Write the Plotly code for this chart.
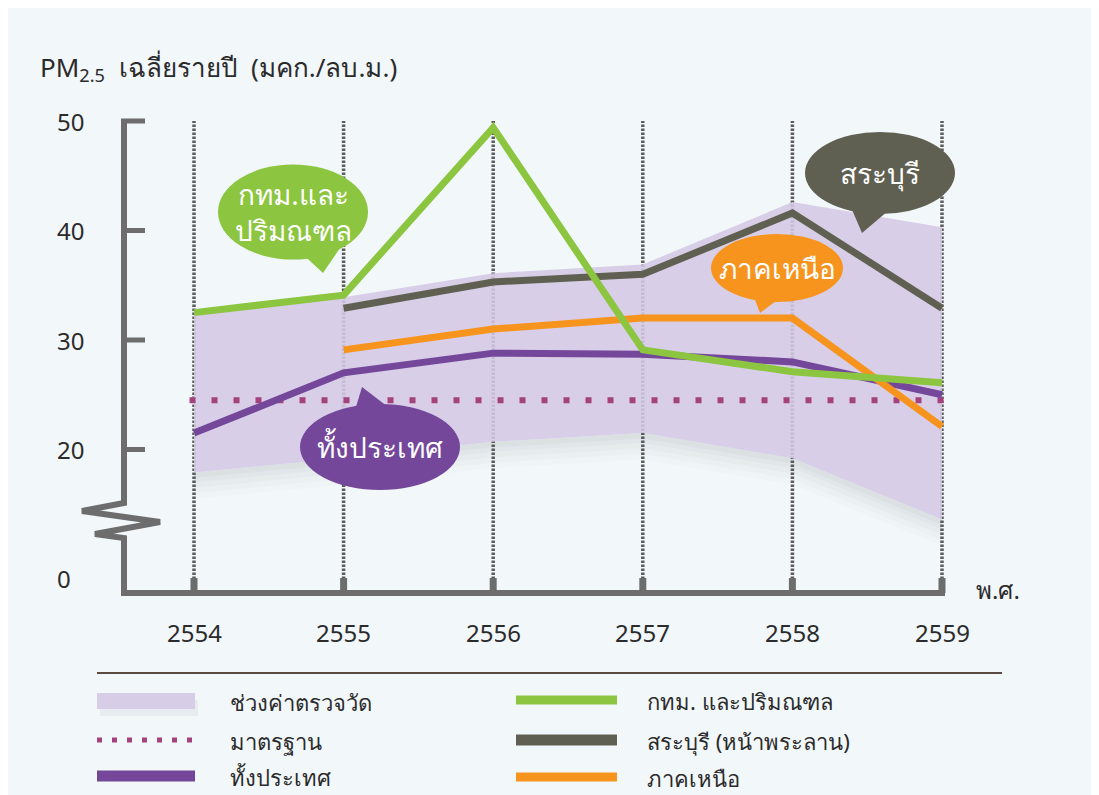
"""
PM2.5 annual average chart (Thailand), 2554-2559
"""

import plotly.graph_objects as go

# Data
years = [2554, 2555, 2556, 2557, 2558, 2559]
range_upper = [32.5, 33.9, 36.1, 36.9, 42.6, 40.3]
range_lower = [17.9, 19.2, 20.7, 21.5, 19.2, 13.6]
bkk = [32.5, 34.1, 49.4, 29.1, 27.1, 26.1]
saraburi_years = [2555, 2556, 2557, 2558, 2559]
saraburi = [32.9, 35.3, 36.0, 41.6, 32.9]
north_years = [2555, 2556, 2557, 2558, 2559]
north = [29.1, 31.0, 32.0, 32.0, 22.1]
nation = [21.5, 27.0, 28.8, 28.7, 28.0, 25.0]
standard = 24.5
y_ticks = [20, 30, 40, 50]

# Colours
GREEN = '#8cc53f'
GREY = '#606052'
ORANGE = '#f7941e'
PURPLE = '#74479b'
BAND = '#d8cde6'
STD = '#a3427c'
AXIS = '#6d6d6d'
TEXT = '#2b2b2b'
CARD = '#f2f7fa'
FONT = 'Noto Sans, sans-serif'

# Canvas / plot geometry (pixels). Positions below are page pixels,
# the figure itself sits 8px in from the page corner.
OFF = 8
W, H = 1099, 795
ML, MR, MT, MB = 62, 80, 82, 170
PW, PH = W - ML - MR, H - MT - MB
PLOT_L, PLOT_T = ML + OFF, MT + OFF
PLOT_R, PLOT_B = PLOT_L + PW, PLOT_T + PH
X_RANGE = [2554 - (194 - PLOT_L) / 149.6, 2559 + (PLOT_R - 942) / 149.6]
Y_RANGE = [20 - (PLOT_B - 449.5) / 10.95, 50 + (121 - PLOT_T) / 10.95]


def px(x):
    return (x - PLOT_L) / PW


def py(y):
    return (PLOT_B - y) / PH


fig = go.Figure()

# soft shadow under the measured range
for off, alpha in [(2.4, 0.02), (1.9, 0.025), (1.4, 0.03), (0.9, 0.035), (0.5, 0.04)]:
    fig.add_trace(go.Scatter(x=years, y=range_lower, mode='lines', line=dict(width=0),
                             hoverinfo='skip', showlegend=False))
    fig.add_trace(go.Scatter(x=years, y=[v - off for v in range_lower], mode='lines',
                             line=dict(width=0), fill='tonexty',
                             fillcolor=f'rgba(90,100,105,{alpha})',
                             hoverinfo='skip', showlegend=False))

# measured range band
fig.add_trace(go.Scatter(x=years, y=range_lower, mode='lines', line=dict(width=0),
                         hoverinfo='skip', showlegend=False))
fig.add_trace(go.Scatter(x=years, y=range_upper, mode='lines', line=dict(width=0),
                         fill='tonexty', fillcolor='rgba(212,200,228,0.88)',
                         name='ช่วงค่าตรวจวัด', showlegend=False))

# standard
fig.add_trace(go.Scatter(x=[years[0] - 0.03, years[-1] + 0.09], y=[standard, standard],
                         mode='lines', line=dict(color=STD, width=6, dash='6px,16px'),
                         name='มาตรฐาน', showlegend=False))

# series
fig.add_trace(go.Scatter(x=years, y=nation, mode='lines',
                         line=dict(color=PURPLE, width=7), name='ทั้งประเทศ', showlegend=False))
fig.add_trace(go.Scatter(x=north_years, y=north, mode='lines',
                         line=dict(color=ORANGE, width=7), name='ภาคเหนือ', showlegend=False))
fig.add_trace(go.Scatter(x=saraburi_years, y=saraburi, mode='lines',
                         line=dict(color=GREY, width=7), name='สระบุรี (หน้าพระลาน)', showlegend=False))
fig.add_trace(go.Scatter(x=years, y=bkk, mode='lines',
                         line=dict(color=GREEN, width=7), name='กทม. และปริมณฑล', showlegend=False))

shapes = []

# thin shadow line at the right edge of the card
shapes.append(dict(type='line', xref='paper', yref='paper', layer='below',
                   x0=px(1093), x1=px(1093), y0=py(20), y1=py(800),
                   line=dict(color='#d3d7da', width=2)))
shapes.append(dict(type='rect', xref='paper', yref='paper', layer='below',
                   x0=px(1094), x1=px(1110), y0=py(0), y1=py(800),
                   fillcolor='white', line=dict(width=0)))

# vertical dotted grid lines at each year
for yr in years:
    shapes.append(dict(type='line', xref='x', yref='paper', layer='below',
                       x0=yr, x1=yr, y0=py(583), y1=py(121),
                       line=dict(color='#5c5c5c', width=3.5, dash='2.5px,1.5px')))

# y axis with break
ax = 124
shapes.append(dict(
    type='path', xref='paper', yref='paper',
    path=(f'M {px(ax)},{py(120)} L {px(ax)},{py(503)} L {px(82)},{py(511)} '
          f'L {px(160)},{py(522)} L {px(95)},{py(534)} L {px(ax)},{py(538)} '
          f'L {px(ax)},{py(593)} L {px(945)},{py(593)}'),
    line=dict(color=AXIS, width=6)))
for t in y_ticks:
    shapes.append(dict(type='line', xref='paper', yref='y', x0=px(ax - 3), x1=px(145),
                       y0=t, y1=t, line=dict(color=AXIS, width=5)))
for yr in years:
    shapes.append(dict(type='line', xref='x', yref='paper', x0=yr, x1=yr,
                       y0=py(593), y1=py(578), line=dict(color=AXIS, width=7)))


# speech bubbles
def bubble(cx, cy, w, h, color, tail):
    shapes.append(dict(type='circle', xref='paper', yref='paper',
                       x0=px(cx - w / 2), x1=px(cx + w / 2),
                       y0=py(cy + h / 2), y1=py(cy - h / 2),
                       fillcolor=color, line=dict(width=0)))
    pts = ' L '.join(f'{px(a)},{py(b)}' for a, b in tail)
    shapes.append(dict(type='path', xref='paper', yref='paper', path=f'M {pts} Z',
                       fillcolor=color, line=dict(width=0)))


bubble(293, 212, 150, 95, GREEN, [(296, 248), (323, 273), (340, 248)])
bubble(380, 447, 160, 86, PURPLE, [(352, 420), (362, 387), (405, 420)])
bubble(880, 173, 150, 82, GREY, [(850, 205), (862, 233), (895, 205)])
bubble(777, 268, 132, 68, ORANGE, [(752, 292), (760, 313), (788, 292)])

# legend
shapes.append(dict(type='line', xref='paper', yref='paper', x0=px(97), x1=px(1002),
                   y0=py(673), y1=py(673), line=dict(color='#5b4a40', width=2)))
shapes.append(dict(type='rect', xref='paper', yref='paper', x0=px(100), x1=px(198),
                   y0=py(716), y1=py(700), fillcolor='rgba(90,100,105,0.07)',
                   line=dict(width=0), layer='below'))
legend_left = [
    (701, dict(color=BAND, width=16), 'ช่วงค่าตรวจวัด'),
    (740, dict(color=STD, width=5, dash='5px,10px'), 'มาตรฐาน'),
    (776, dict(color=PURPLE, width=11), 'ทั้งประเทศ'),
]
legend_right = [
    (700, dict(color=GREEN, width=9), 'กทม. และปริมณฑล'),
    (740, dict(color=GREY, width=11), 'สระบุรี (หน้าพระลาน)'),
    (777, dict(color=ORANGE, width=9), 'ภาคเหนือ'),
]

annotations = []
for items, lx0, lx1, tx in [(legend_left, 97, 195, 228), (legend_right, 516, 617, 645)]:
    for yy, ln, label in items:
        shapes.append(dict(type='line', xref='paper', yref='paper', x0=px(lx0), x1=px(lx1),
                           y0=py(yy), y1=py(yy), line=ln))
        annotations.append(dict(xref='paper', yref='paper', x=px(tx), y=py(yy + 1),
                                text=label, showarrow=False, xanchor='left', yanchor='middle',
                                font=dict(size=22, color=TEXT)))

# bubble labels
for cx, cy, text in [(293, 212, 'กทม.และ<br>ปริมณฑล'), (380, 447, 'ทั้งประเทศ'),
                     (880, 173, 'สระบุรี'), (777, 268, 'ภาคเหนือ')]:
    annotations.append(dict(xref='paper', yref='paper', x=px(cx), y=py(cy),
                            text=text, showarrow=False, xanchor='center', yanchor='middle',
                            font=dict(size=28, color='white')))

# axis labels
for t in y_ticks:
    annotations.append(dict(xref='paper', yref='y', x=px(86), y=t, text=str(t),
                            showarrow=False, xanchor='right', yanchor='middle',
                            font=dict(size=24, color=TEXT)))
annotations.append(dict(xref='paper', yref='paper', x=px(73), y=py(578), text='0',
                        showarrow=False, xanchor='right', yanchor='middle',
                        font=dict(size=24, color=TEXT)))
for yr in years:
    annotations.append(dict(xref='x', yref='paper', x=yr, y=py(632), text=str(yr),
                            showarrow=False, xanchor='center', yanchor='middle',
                            font=dict(size=24, color=TEXT)))
annotations.append(dict(xref='paper', yref='paper', x=px(974), y=py(589), text='พ.ศ.',
                        showarrow=False, xanchor='left', yanchor='middle',
                        font=dict(size=24, color=TEXT)))
annotations.append(dict(xref='paper', yref='paper', x=px(38), y=py(68),
                        text='PM<sub>2.5</sub>  เฉลี่ยรายปี  (มคก./ลบ.ม.)',
                        showarrow=False, xanchor='left', yanchor='middle',
                        font=dict(size=26, color=TEXT)))

fig.update_layout(
    width=W, height=H,
    margin=dict(l=ML, r=MR, t=MT, b=MB),
    paper_bgcolor=CARD,
    plot_bgcolor='rgba(0,0,0,0)',
    font=dict(family=FONT, color=TEXT),
    showlegend=False,
    xaxis=dict(range=X_RANGE, visible=False),
    yaxis=dict(range=Y_RANGE, visible=False),
    shapes=shapes,
    annotations=annotations,
)

fig.write_html('out.html')
